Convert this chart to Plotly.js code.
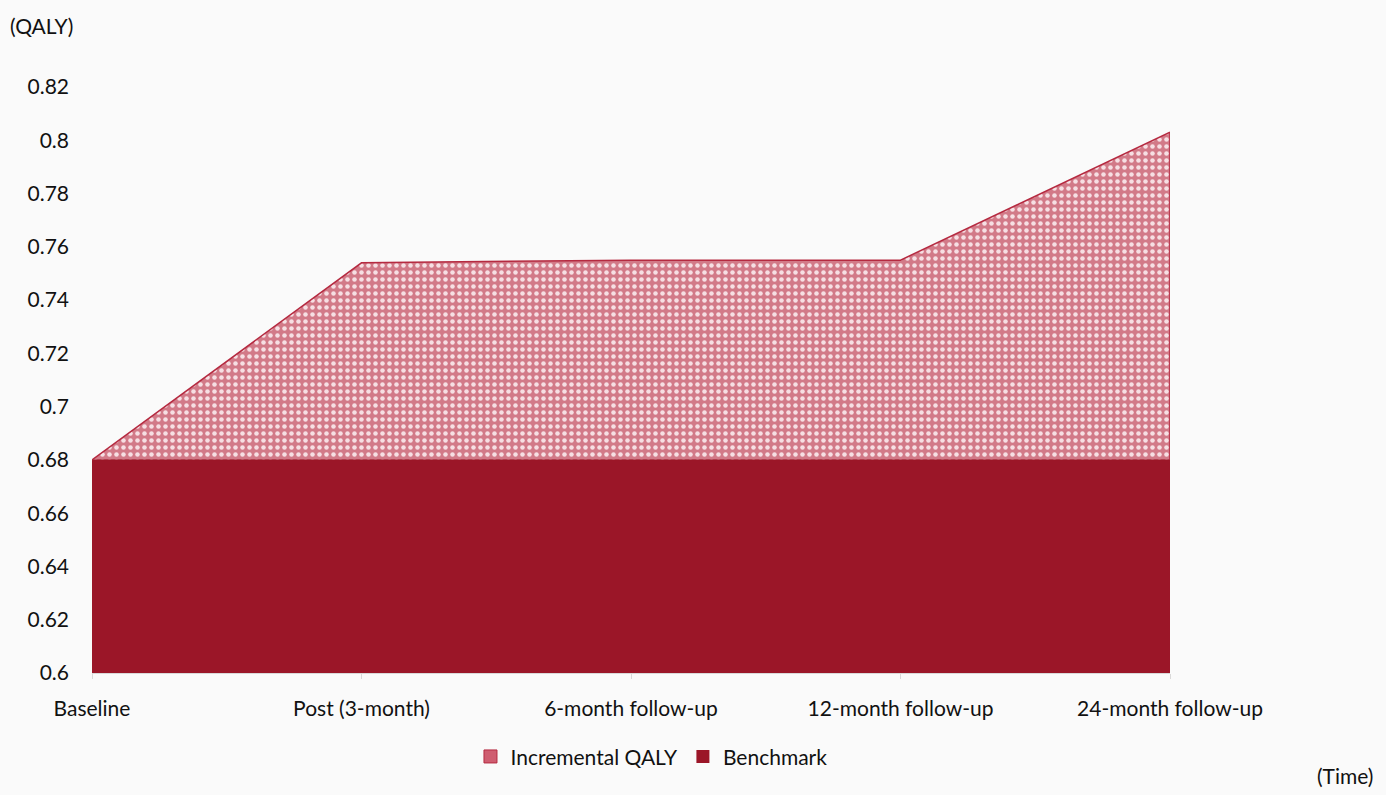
<!DOCTYPE html>
<html>
<head>
<meta charset="utf-8">
<script src="https://cdn.plot.ly/plotly-3.0.1.min.js"></script>
<style>html,body{margin:0;padding:0;background:#fafafa;}</style>
</head>
<body>
<div id="chart" style="width:1386px;height:795px;"></div>
<script>
const categories = ["Baseline", "Post (3-month)", "6-month follow-up", "12-month follow-up", "24-month follow-up"];
const benchmark = [0.68, 0.68, 0.68, 0.68, 0.68];
const incremental = [0.0, 0.074, 0.075, 0.075, 0.123];
const yTicks = [0.6, 0.62, 0.64, 0.66, 0.68, 0.7, 0.72, 0.74, 0.76, 0.78, 0.8, 0.82];
const yTickText = ["0.6", "0.62", "0.64", "0.66", "0.68", "0.7", "0.72", "0.74", "0.76", "0.78", "0.8", "0.82"];

const total = benchmark.map((b, i) => +(b + incremental[i]).toFixed(4));
const idx = categories.map((_, i) => i);
const last = idx.length - 1;

const fontFam = "Lato, 'Open Sans', sans-serif";
const fs = 21;
const txt = "#111";
const darkRed = "#9b1628";
const pink = "#d47c8a";

const traces = [
  {
    x: idx, y: benchmark, name: "Benchmark", type: "scatter", mode: "lines",
    fill: "tozeroy", fillcolor: darkRed, line: {color: darkRed, width: 1},
    showlegend: false, hoverinfo: "x+y"
  },
  {
    x: idx, y: total, name: "Incremental QALY", type: "scatter", mode: "lines",
    fill: "tonexty", fillcolor: pink,
    fillpattern: {shape: ".", bgcolor: "#d27a88", fgcolor: "#f6dfe3", size: 7, solidity: 0.33},
    line: {color: "#b52a40", width: 1.5}, showlegend: false
  },
  {
    x: [idx[last], idx[last]], y: [benchmark[last], total[last]], type: "scatter", mode: "lines",
    line: {color: "#b52a40", width: 1.5}, showlegend: false, hoverinfo: "skip"
  },
  {
    x: [null], y: [null], name: "Incremental QALY", type: "scatter", mode: "markers",
    marker: {symbol: "square", size: 13, color: "#cf5d70", line: {color: "#b52a40", width: 1}}
  },
  {
    x: [null], y: [null], name: "Benchmark", type: "scatter", mode: "markers",
    marker: {symbol: "square", size: 13, color: darkRed}
  }
];

const layout = {
  width: 1386, height: 795,
  paper_bgcolor: "#fafafa", plot_bgcolor: "#fafafa",
  margin: {l: 92, r: 216, t: 87, b: 122},
  font: {family: fontFam, size: fs, color: txt},
  showlegend: true,
  legend: {
    orientation: "h", x: 0.519, xanchor: "center", y: -0.143, yanchor: "middle",
    traceorder: "normal", font: {family: fontFam, size: fs, color: txt},
    bgcolor: "rgba(0,0,0,0)", itemwidth: 30
  },
  xaxis: {
    range: [0, 4], tickmode: "array", tickvals: idx, ticktext: categories,
    showgrid: false, zeroline: false, showline: true, linecolor: "#d9d9d9", linewidth: 1,
    ticks: "outside", ticklen: 5, tickcolor: "#d9d9d9", ticklabelstandoff: 12,
    tickfont: {family: fontFam, size: fs, color: txt}, fixedrange: true
  },
  yaxis: {
    range: [0.6, 0.82], tickmode: "array", tickvals: yTicks, ticktext: yTickText,
    showgrid: false, zeroline: false, showline: false, ticks: "",
    tickfont: {family: fontFam, size: fs, color: txt}, ticklabelstandoff: 22, fixedrange: true
  },
  annotations: [
    {text: "(QALY)", xref: "paper", yref: "paper", x: -0.078, y: 1.105, xanchor: "left", yanchor: "middle",
     showarrow: false, font: {family: fontFam, size: fs, color: txt}},
    {text: "(Time)", xref: "paper", yref: "paper", x: 1.19, y: -0.2, xanchor: "right", yanchor: "bottom",
     showarrow: false, font: {family: fontFam, size: fs, color: txt}}
  ]
};

Plotly.newPlot("chart", traces, layout, {displayModeBar: false});
</script>
</body>
</html>
